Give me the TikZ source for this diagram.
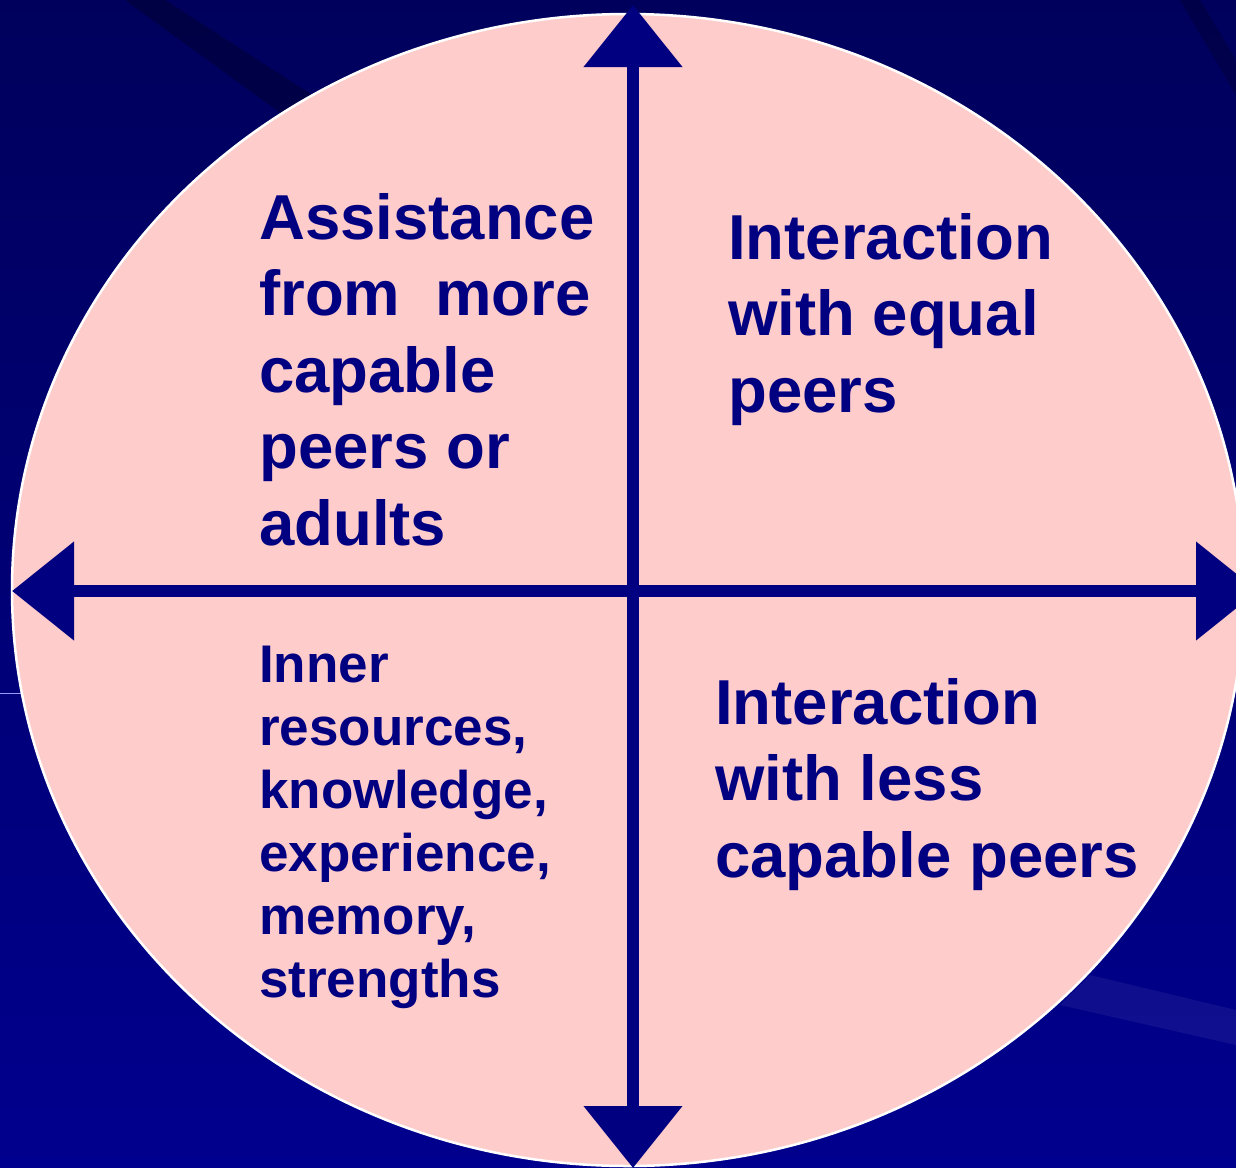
\documentclass[tikz,border=0pt]{standalone}
\usepackage{fontspec}
\setmainfont{Liberation Sans}
\usetikzlibrary{arrows.meta}
\definecolor{bgtop}{HTML}{00005C}
\definecolor{bgbot}{HTML}{00008E}
\definecolor{quadpink}{HTML}{FFCCCC}
\definecolor{inknavy}{HTML}{000080}
\begin{document}
\begin{tikzpicture}[x=1pt, y=-1pt,
  axis/.style={line width=12pt, inknavy,
    {Triangle[length=62pt,width=96pt]}-{Triangle[length=62pt,width=96pt]}},
  bigtext/.style={anchor=base west, inner sep=0pt, align=left, text=inknavy,
    font=\bfseries\fontsize{63.5}{76.5}\selectfont},
  smalltext/.style={anchor=base west, inner sep=0pt, align=left, text=inknavy,
    font=\bfseries\fontsize{53}{63}\selectfont}]
\useasboundingbox (0,0) rectangle (1236,1167);
\clip (0,0) rectangle (1236,1167);

% Background
\shade[top color=bgtop, bottom color=bgbot] (0,0) rectangle (1236,1167);
\fill[black, opacity=0.25] (125,0) -- (165,0) -- (320,100) -- (290,120) -- cycle;
\fill[black, opacity=0.2] (1180,0) -- (1200,0) -- (1236,60) -- (1236,95) -- cycle;
\fill[white, opacity=0.06] (1090,975) -- (1236,1010) -- (1236,1045) -- (1060,1005) -- cycle;
\draw[blue!40!white, thin] (0,693) -- (22,693);

% Quadrant ellipse
\filldraw[fill=quadpink, draw=white, line width=2.5pt] (628,590) ellipse [x radius=616, y radius=576];

% Axes
\coordinate (top) at (633,5);
\coordinate (bottom) at (633,1168);
\coordinate (left) at (12,591);
\coordinate (right) at (1258,591);
\draw[axis] (bottom) -- (top);
\draw[axis] (left) -- (right);

% Quadrant labels (base = last line)
\node[bigtext] (assist) at (259,545) {Assistance\\from\ \ more\\capable\\peers or\\adults};
\node[bigtext] (equal) at (728,412) {Interaction\\with equal\\peers};
\node[smalltext] (inner) at (259,997) {Inner\\resources,\\knowledge,\\experience,\\memory,\\strengths};
\node[bigtext] (less) at (715,877) {Interaction\\with less\\capable peers};
\end{tikzpicture}
\end{document}
